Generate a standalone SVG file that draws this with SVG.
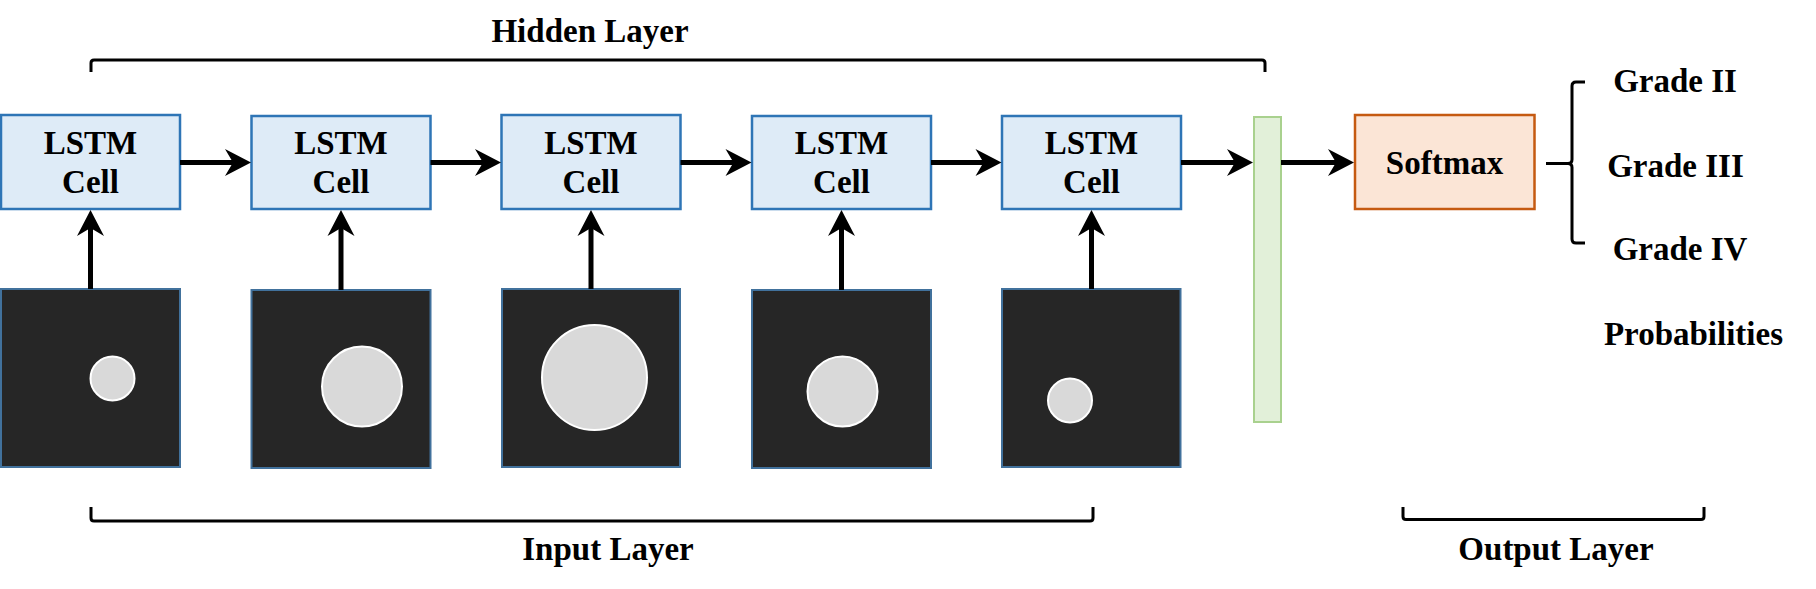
<svg xmlns="http://www.w3.org/2000/svg" width="1816" height="589" viewBox="0 0 1816 589">
<style>
  .lbl{font-family:"Liberation Serif","Times New Roman",serif;font-weight:bold;font-size:33px;fill:#000;text-anchor:middle}
  .lstm{fill:#DEEBF7;stroke:#2E75B6;stroke-width:2.5}
  .img{fill:#262626;stroke:#41719C;stroke-width:2}
  .blob{fill:#D9D9D9;stroke:#FFFFFF;stroke-width:2}
  .conn{stroke:#000;stroke-width:5;fill:none}
  .brk{stroke:#000;stroke-width:3;fill:none;stroke-linejoin:round}
</style>
<defs>
  <marker id="ah" markerUnits="userSpaceOnUse" viewBox="-28 -15 30 30" refX="0" refY="0" markerWidth="30" markerHeight="30" orient="auto">
    <path d="M0,0 L-26,-13.5 L-18,0 L-26,13.5 Z" fill="#000"/>
  </marker>
</defs>
<rect width="1816" height="589" fill="#fff"/>

<g id="hidden-label">
  <path class="brk" d="M91,72 V63 Q91,60 94,60 H1262 Q1265,60 1265,63 V72"/>
  <text class="lbl" x="590" y="42">Hidden Layer</text>
</g>

<g id="lstm1"><rect class="lstm" x="1" y="115" width="179" height="94"/><text class="lbl" x="90.5" y="154">LSTM</text><text class="lbl" x="90.5" y="193">Cell</text></g>
<g id="lstm2"><rect class="lstm" x="251.5" y="116" width="179" height="93"/><text class="lbl" x="341" y="154">LSTM</text><text class="lbl" x="341" y="193">Cell</text></g>
<g id="lstm3"><rect class="lstm" x="501.5" y="115" width="179" height="94"/><text class="lbl" x="591" y="154">LSTM</text><text class="lbl" x="591" y="193">Cell</text></g>
<g id="lstm4"><rect class="lstm" x="752" y="116" width="179" height="93"/><text class="lbl" x="841.5" y="154">LSTM</text><text class="lbl" x="841.5" y="193">Cell</text></g>
<g id="lstm5"><rect class="lstm" x="1002" y="116" width="179" height="93"/><text class="lbl" x="1091.5" y="154">LSTM</text><text class="lbl" x="1091.5" y="193">Cell</text></g>

<g id="img1"><rect class="img" x="1" y="289" width="179" height="178"/><circle class="blob" cx="112.5" cy="378.5" r="22"/></g>
<g id="img2"><rect class="img" x="251.5" y="290" width="179" height="178"/><circle class="blob" cx="362" cy="386.5" r="40"/></g>
<g id="img3"><rect class="img" x="502" y="289" width="178" height="178"/><circle class="blob" cx="594.5" cy="377.5" r="52.5"/></g>
<g id="img4"><rect class="img" x="752" y="290" width="179" height="178"/><circle class="blob" cx="842.5" cy="391.5" r="35"/></g>
<g id="img5"><rect class="img" x="1002" y="289" width="178.5" height="178"/><circle class="blob" cx="1070" cy="400.5" r="22"/></g>

<g id="dense"><rect x="1254" y="117" width="27" height="305" fill="#E2F0D9" stroke="#A9D18E" stroke-width="2"/></g>

<g id="softmax"><rect x="1355" y="115" width="179.5" height="94" fill="#FBE5D6" stroke="#C55A11" stroke-width="2.5"/><text class="lbl" x="1444.5" y="174">Softmax</text></g>

<g id="connectors">
  <line class="conn" x1="180" y1="162.5" x2="244" y2="162.5"/>
  <line class="conn" x1="430.5" y1="162.5" x2="494" y2="162.5"/>
  <line class="conn" x1="680.5" y1="162.5" x2="744.5" y2="162.5"/>
  <line class="conn" x1="931" y1="162.5" x2="994.5" y2="162.5"/>
  <line class="conn" x1="1181" y1="162.5" x2="1246" y2="162.5"/>
  <line class="conn" x1="1281" y1="162.5" x2="1347" y2="162.5"/>
  <line class="conn" x1="90.5" y1="289" x2="90.5" y2="217"/>
  <line class="conn" x1="341" y1="290" x2="341" y2="217"/>
  <line class="conn" x1="591" y1="289" x2="591" y2="217"/>
  <line class="conn" x1="841.5" y1="290" x2="841.5" y2="217"/>
  <line class="conn" x1="1091.5" y1="289" x2="1091.5" y2="217"/>
  <g fill="#000">
    <path d="M251,162.5 l-26,-13.5 l8,13.5 l-8,13.5 Z"/>
    <path d="M501,162.5 l-26,-13.5 l8,13.5 l-8,13.5 Z"/>
    <path d="M751.5,162.5 l-26,-13.5 l8,13.5 l-8,13.5 Z"/>
    <path d="M1001.5,162.5 l-26,-13.5 l8,13.5 l-8,13.5 Z"/>
    <path d="M1253,162.5 l-26,-13.5 l8,13.5 l-8,13.5 Z"/>
    <path d="M1354,162.5 l-26,-13.5 l8,13.5 l-8,13.5 Z"/>
    <path d="M90.5,210 l-13.5,26 l13.5,-8 l13.5,8 Z"/>
    <path d="M341,210 l-13.5,26 l13.5,-8 l13.5,8 Z"/>
    <path d="M591,210 l-13.5,26 l13.5,-8 l13.5,8 Z"/>
    <path d="M841.5,210 l-13.5,26 l13.5,-8 l13.5,8 Z"/>
    <path d="M1091.5,210 l-13.5,26 l13.5,-8 l13.5,8 Z"/>
  </g>
</g>

<g id="output-brace">
  <path class="brk" d="M1546,163.5 H1568 Q1572,163.5 1572,159.5 V86 Q1572,82 1576,82 H1585 M1568,163.5 Q1572,163.5 1572,167.5 V239 Q1572,243 1576,243 H1585"/>
  <text class="lbl" x="1675" y="92">Grade II</text>
  <text class="lbl" x="1675.5" y="177">Grade III</text>
  <text class="lbl" x="1680" y="260">Grade IV</text>
  <text class="lbl" x="1693.5" y="345">Probabilities</text>
</g>

<g id="input-label">
  <path class="brk" d="M91,507 V518 Q91,521 94,521 H1090 Q1093,521 1093,518 V507"/>
  <text class="lbl" x="608" y="560">Input Layer</text>
</g>

<g id="output-label">
  <path class="brk" d="M1403,507 V516.5 Q1403,519.5 1406,519.5 H1701 Q1704,519.5 1704,516.5 V507"/>
  <text class="lbl" x="1556" y="560">Output Layer</text>
</g>
</svg>
